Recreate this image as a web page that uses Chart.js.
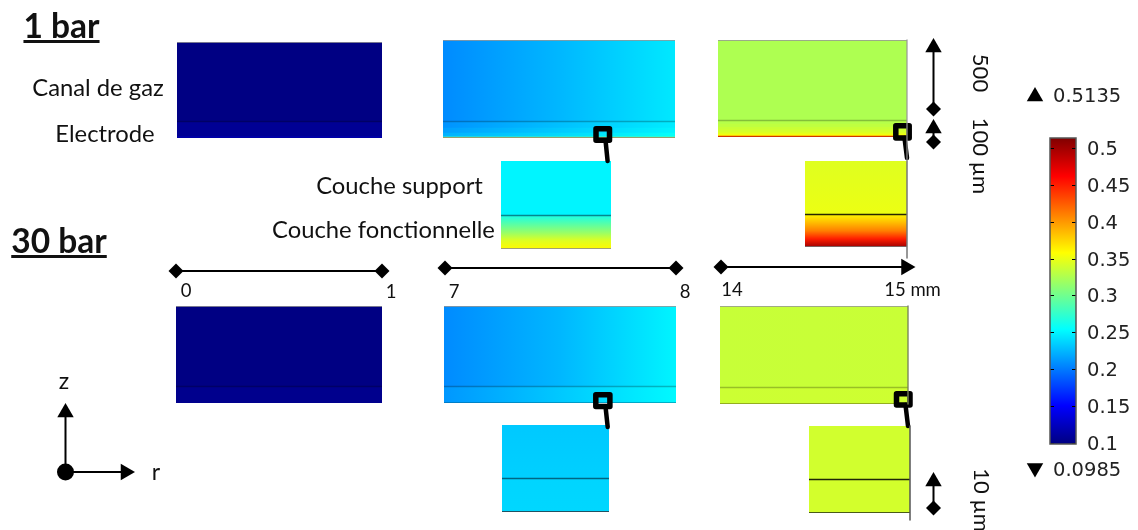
<!DOCTYPE html>
<html>
<head>
<meta charset="utf-8">
<title>Concentration</title>
<script src="https://cdn.jsdelivr.net/npm/chart.js@4"></script>
<style>
  html, body { margin: 0; background: #fff; width: 1138px; height: 530px; overflow: hidden; }
  canvas { position: absolute; display: block; }
  .lbl { position: absolute; white-space: nowrap; color: #111; font-family: Lato, sans-serif; transform: translate(-50%, -50%); z-index: 5; }
</style>
</head>
<body>
<script>
// colour scale limits
const scaleMin = 0.0985;
const scaleMax = 0.5135;
const colorbarTicks = [0.5, 0.45, 0.4, 0.35, 0.3, 0.25, 0.2, 0.15, 0.1];

// top of each layer in um, then the values read from left to right in it
const a1Z = [10, 100, 600];
const a1C = [[0.114, 0.114], [0.107, 0.107], [0.1, 0.1]];
const b1Z = [5, 12, 30, 60, 100, 600];
const b1C = [[0.3, 0.31], [0.228, 0.258], [0.222, 0.256], [0.215, 0.25], [0.21, 0.247], [0.207, 0.225, 0.245]];
const c1Z = [5, 12, 20, 30, 45, 60, 80, 100, 600];
const c1C = [[0.45, 0.45], [0.356, 0.356], [0.35, 0.35], [0.344, 0.344], [0.34, 0.34], [0.336, 0.336], [0.332, 0.332], [0.328, 0.328], [0.325, 0.325]];
const a30Z = [100, 600];
const a30C = [[0.104, 0.104], [0.1, 0.1]];
const b30Z = [100, 600];
const b30C = [[0.212, 0.252], [0.207, 0.225, 0.25]];
const c30Z = [100, 600];
const c30C = [[0.337, 0.338], [0.335, 0.336]];

// zoomed parts, values read from the bottom to the top of each layer
const zoomZ = [10, 26.5];
const b1ZoomC = [[0.36, 0.345, 0.315, 0.29, 0.265], [0.25, 0.25]];
const c1ZoomC = [[0.5, 0.45, 0.41, 0.385, 0.362], [0.35, 0.345]];
const b30ZoomC = [[0.238, 0.237], [0.235, 0.232]];
const c30ZoomC = [[0.34, 0.34], [0.339, 0.339]];

function jet(v) {
  const t = (v - scaleMin) / (scaleMax - scaleMin);
  const ch = (k) => Math.round(255 * Math.max(0, Math.min(1, 1.5 - Math.abs(4 * t - k))));
  return "rgb(" + ch(3) + "," + ch(2) + "," + ch(1) + ")";
}

function newCanvas(x, y, w, h, z) {
  const c = document.createElement("canvas");
  c.style.left = x + "px";
  c.style.top = y + "px";
  c.style.zIndex = z;
  c.style.width = w + "px";
  c.style.height = h + "px";
  c.width = w;
  c.height = h;
  document.body.appendChild(c);
  return c;
}

const edgesPlugin = {
  id: "edges",
  afterDatasetsDraw(chart, args, o) {
    const { ctx, chartArea: a, scales: { y } } = chart;
    ctx.save();
    const hline = (py, col, lw) => {
      ctx.strokeStyle = col;
      ctx.lineWidth = lw;
      ctx.beginPath();
      ctx.moveTo(a.left, py);
      ctx.lineTo(a.right, py);
      ctx.stroke();
    };
    hline(Math.round(y.getPixelForValue(o.line)) - 0.5, o.lineColor, 1.6);
    hline(a.top + 0.5, o.top, 1);
    hline(a.bottom - 0.5, o.bottom, 1);
    ctx.restore();
  },
};

function drawPanel(box, zTops, values, style) {
  const w = box[2] - box[0];
  const h = box[3] - box[1];
  const zMax = zTops[zTops.length - 1];
  const canvas = newCanvas(box[0], box[1], w, h, 1);
  const gc = canvas.getContext("2d");
  // first layer in the list is painted last, so each bar can start from z = 0 with no seams
  const datasets = zTops.map((top, i) => {
    const g = style.vertical
      ? gc.createLinearGradient(0, h - (h * (i ? zTops[i - 1] : 0)) / zMax, 0, h - (h * top) / zMax)
      : gc.createLinearGradient(0, 0, w, 0);
    values[i].forEach((v, k) => g.addColorStop(k / (values[i].length - 1), jet(v)));
    return {
      data: [[0, top]],
      borderWidth: 0,
      barPercentage: 1,
      categoryPercentage: 1,
      grouped: false,
      backgroundColor: g,
    };
  });
  new Chart(canvas, {
    type: "bar",
    data: { labels: ["r"], datasets },
    plugins: [edgesPlugin],
    options: {
      responsive: false,
      animation: false,
      events: [],
      layout: { padding: 0 },
      scales: {
        x: { display: false },
        y: { display: false, min: 0, max: zMax },
      },
      plugins: {
        legend: { display: false },
        tooltip: { enabled: false },
        edges: { line: style.line, lineColor: style.lineColor, top: style.top, bottom: style.bottom },
      },
    },
  });
}

const thin = "rgba(0,0,0,0.25)";
const bigTop = "rgba(150,150,150,0.8)";
drawPanel([177, 42, 382, 138], a1Z, a1C, { line: 100, lineColor: thin, top: bigTop, bottom: "rgba(0,0,0,0)" });
drawPanel([443, 40, 675, 138], b1Z, b1C, { line: 100, lineColor: thin, top: bigTop, bottom: "rgba(150,150,110,0.9)" });
drawPanel([718, 40, 907, 137], c1Z, c1C, { line: 100, lineColor: thin, top: bigTop, bottom: "rgba(200,60,0,0.9)" });
drawPanel([176, 306, 382, 403], a30Z, a30C, { line: 100, lineColor: thin, top: bigTop, bottom: "rgba(0,0,0,0)" });
drawPanel([444, 306, 676, 403], b30Z, b30C, { line: 100, lineColor: thin, top: bigTop, bottom: "rgba(0,90,130,0.45)" });
drawPanel([720, 306, 908, 404], c30Z, c30C, { line: 100, lineColor: thin, top: bigTop, bottom: "rgba(110,120,20,0.6)" });
drawPanel([501, 161, 611, 249], zoomZ, b1ZoomC, { vertical: true, line: 10, lineColor: "rgba(0,40,60,0.55)", top: "rgba(0,0,0,0)", bottom: "rgba(150,150,130,0.9)" });
drawPanel([805, 161, 907, 247], zoomZ, c1ZoomC, { vertical: true, line: 10, lineColor: "rgba(0,0,0,0.85)", top: "rgba(0,0,0,0)", bottom: "rgba(120,110,110,0.9)" });
drawPanel([502, 425, 609, 512], zoomZ, b30ZoomC, { vertical: true, line: 10, lineColor: "rgba(0,30,50,0.6)", top: "rgba(0,0,0,0)", bottom: "rgba(40,50,60,0.8)" });
drawPanel([809, 426, 910, 513], zoomZ, c30ZoomC, { vertical: true, line: 10, lineColor: "rgba(0,0,0,0.85)", top: "rgba(0,0,0,0)", bottom: "rgba(40,50,20,0.8)" });

// colour bar, its axis carries the tick labels
const barTicksPlugin = {
  id: "barTicks",
  afterDatasetsDraw(chart) {
    const { ctx, chartArea: a, scales: { y } } = chart;
    ctx.save();
    ctx.strokeStyle = "#000";
    ctx.lineWidth = 1;
    colorbarTicks.forEach((v) => {
      const py = Math.round(y.getPixelForValue(v)) + 0.5;
      ctx.beginPath();
      ctx.moveTo(a.left, py);
      ctx.lineTo(a.left + 4, py);
      ctx.moveTo(a.right - 4, py);
      ctx.lineTo(a.right, py);
      ctx.stroke();
    });
    ctx.strokeStyle = "#555";
    ctx.lineWidth = 1.5;
    ctx.strokeRect(a.left, a.top, a.right - a.left, a.bottom - a.top);
    ctx.restore();
  },
};

const barCanvas = newCanvas(1040, 128, 98, 326, 2);
const barFill = barCanvas.getContext("2d").createLinearGradient(0, 316, 0, 10);
for (let k = 0; k <= 8; k++) {
  barFill.addColorStop(k / 8, jet(scaleMin + (k / 8) * (scaleMax - scaleMin)));
}
new Chart(barCanvas, {
  type: "bar",
  data: {
    labels: ["c"],
    datasets: [{
      data: [[scaleMin, scaleMax]],
      borderWidth: 0,
      barPercentage: 1,
      categoryPercentage: 1,
      backgroundColor: barFill,
    }],
  },
  plugins: [barTicksPlugin],
  options: {
    responsive: false,
    animation: false,
    events: [],
    layout: { autoPadding: false, padding: { left: 10, top: 10, bottom: 10, right: 0 } },
    scales: {
      x: { display: false },
      y: {
        position: "right",
        min: scaleMin,
        max: scaleMax,
        border: { display: false },
        grid: { display: false, drawTicks: false },
        afterBuildTicks(scale) {
          scale.ticks = colorbarTicks.map((v) => ({ value: v }));
        },
        afterFit(scale) {
          scale.width = 62;
          scale.paddingTop = 0;
          scale.paddingBottom = 0;
        },
        ticks: {
          autoSkip: false,
          padding: 11,
          labelOffset: 2,
          color: "#222",
          font: { family: "DejaVu Sans", size: 19.5 },
          callback: (v) => String(v),
        },
      },
    },
    plugins: { legend: { display: false }, tooltip: { enabled: false } },
  },
});

// rulers, arrows and zoom markers on one sheet in page pixels
function seg(pts, ends, rots, width) {
  return {
    data: pts.map((p) => ({ x: p[0], y: p[1] })),
    showLine: true,
    borderColor: "#000",
    backgroundColor: "#000",
    borderWidth: width || 2,
    borderCapStyle: "round",
    borderJoinStyle: "round",
    tension: 0,
    clip: false,
    pointStyle: ends || false,
    pointRotation: rots || 0,
    pointRadius: ends ? ends.map((e) => (e === "rectRot" ? 7.5 : e === "circle" ? 8.5 : e === "triangle" ? 9.5 : 0)) : 0,
    pointBorderWidth: 0,
  };
}
function marker(l, t, r, b, tx, ty, bx) {
  return [
    seg([[l, t], [r, t], [r, b], [l, b], [l, t]], null, null, 5.5),
    seg([[bx, b], [tx, ty]], null, null, 4.5),
  ];
}
function greyLine(x, y0, y1, col) {
  return Object.assign(seg([[x, y0], [x, y1]], null, null, 1.5), { borderColor: col, borderCapStyle: "butt" });
}

const sheet = [
  seg([[176, 271], [382, 271]], ["rectRot", "rectRot"]),
  seg([[445, 268], [676, 268]], ["rectRot", "rectRot"]),
  seg([[721, 267], [906, 267]], ["rectRot", "triangle"], [0, 90]),
  seg([[933.5, 47.5], [933.5, 109]], ["triangle", "rectRot"]),
  seg([[933.5, 128.5], [933.5, 142]], ["triangle", "rectRot"]),
  seg([[933.5, 481.5], [933.5, 508]], ["triangle", "rectRot"]),
  seg([[65.5, 412.5], [65.5, 472]], ["triangle", "none"]),
  seg([[65.5, 472], [125.5, 472]], ["circle", "triangle"], [0, 90]),
  seg([[1035, 96.5]], ["triangle"]),
  seg([[1035, 468]], ["triangle"], [180]),
  greyLine(907, 40, 161, "rgba(150,150,150,0.8)"),
  greyLine(907, 161, 258, "#777"),
  greyLine(908, 306, 404, "rgba(120,130,90,0.9)"),
  greyLine(910, 426, 520, "#555"),
  ...marker(596, 128.8, 609.5, 140.2, 607.6, 161, 605.5),
  ...marker(895.8, 125.8, 909.2, 138, 907, 158, 904.5),
  ...marker(595.8, 394.8, 609.9, 406.5, 607.7, 427, 605.5),
  ...marker(896.5, 393.8, 910, 405, 908, 426, 905.5),
];

new Chart(newCanvas(0, 0, 1138, 530, 3), {
  type: "scatter",
  data: { datasets: sheet },
  options: {
    responsive: false,
    animation: false,
    events: [],
    layout: { autoPadding: false, padding: 0 },
    scales: {
      x: { display: false, min: 0, max: 1138 },
      y: { display: false, min: 0, max: 530, reverse: true },
    },
    plugins: { legend: { display: false }, tooltip: { enabled: false } },
  },
});

// text: string, centre x, centre y, size, extra css
const texts = [
  ["1 bar", 61.5, 25, 33.5, "font-weight:700;text-decoration:underline"],
  ["30 bar", 59, 240, 33.5, "font-weight:700;text-decoration:underline"],
  ["Canal de gaz", 98, 87, 23.8, ""],
  ["Electrode", 105, 133, 23.8, ""],
  ["Couche support", 399.5, 185, 23.8, ""],
  ["Couche fonctionnelle", 383.5, 229, 23.8, ""],
  ["0", 186, 290, 18.5, ""],
  ["1", 391, 291, 18.5, ""],
  ["7", 454, 291, 18.5, ""],
  ["8", 685, 291, 18.5, ""],
  ["14", 732, 289, 18.5, ""],
  ["15 mm", 912.5, 289, 18.5, ""],
  ["z", 64, 380, 23, ""],
  ["r", 156, 471, 23, ""],
  ["500", 981, 73, 22, "transform:translate(-50%,-50%) rotate(90deg)"],
  ["100 µm", 981, 156, 22, "transform:translate(-50%,-50%) rotate(90deg)"],
  ["10 µm", 982, 500, 22, "transform:translate(-50%,-50%) rotate(90deg)"],
  ["0.5135", 1053, 95, 19.5, "font-family:'DejaVu Sans';color:#222;transform:translate(0,-50%)"],
  ["0.0985", 1053, 469, 19.5, "font-family:'DejaVu Sans';color:#222;transform:translate(0,-50%)"],
];
texts.forEach((t) => {
  const d = document.createElement("div");
  d.className = "lbl";
  d.textContent = t[0];
  d.style.cssText = "left:" + t[1] + "px;top:" + t[2] + "px;font-size:" + t[3] + "px;" + t[4];
  document.body.appendChild(d);
});
</script>
</body>
</html>
